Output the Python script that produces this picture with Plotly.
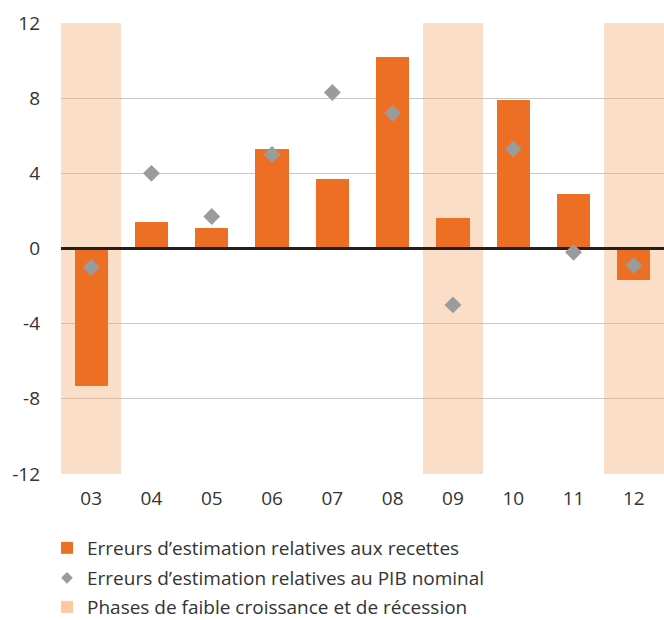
import plotly.graph_objects as go

years = ["03", "04", "05", "06", "07", "08", "09", "10", "11", "12"]
recettes = [-7.3, 1.4, 1.1, 5.3, 3.7, 10.2, 1.6, 7.9, 2.9, -1.7]
pib = [-1.0, 4.0, 1.7, 5.0, 8.3, 7.2, -3.0, 5.3, -0.2, -0.9]
phases = ["03", "09", "12"]
y_ticks = [-12, -8, -4, 0, 4, 8, 12]

ORANGE = "#EC6F24"
GREY = "#9B9B9B"
SHADE = "rgba(246,172,115,0.4)"
SHADE_LEG = "#FDC8A2"
FONT = "Open Sans"

NAME_REC = "Erreurs d\u2019estimation relatives aux recettes"
NAME_PIB = "Erreurs d\u2019estimation relatives au PIB nominal"
NAME_PH = "Phases de faible croissance et de récession"

fig = go.Figure()

fig.add_trace(go.Bar(
    x=phases, y=[24] * len(phases), base=[-12] * len(phases), width=1.0,
    marker=dict(color=SHADE, line=dict(width=0)),
    name=NAME_PH, showlegend=False,
))
fig.add_trace(go.Bar(
    x=years, y=recettes, width=0.55,
    marker=dict(color=ORANGE, line=dict(width=0)),
    name=NAME_REC, legend="legend",
))
# zero baseline drawn above bars, below markers
fig.add_trace(go.Bar(
    x=years, y=[0.15] * len(years), base=[-0.075] * len(years), width=1.0,
    marker=dict(color="#231F20", line=dict(width=0)),
    showlegend=False, hoverinfo="skip",
))
fig.add_trace(go.Scatter(
    x=years, y=pib, mode="markers",
    marker=dict(symbol="diamond", size=13, color=GREY, line=dict(width=0)),
    name=NAME_PIB, showlegend=False,
))
# legend-only entries (smaller diamond, stronger shade swatch as in the original)
fig.add_trace(go.Scatter(
    x=[None], y=[None], mode="markers",
    marker=dict(symbol="diamond", size=9, color=GREY, line=dict(width=0)),
    name=NAME_PIB, legend="legend2", hoverinfo="skip",
))
fig.add_trace(go.Bar(
    x=[None], y=[None],
    marker=dict(color=SHADE_LEG, line=dict(width=0)),
    name=NAME_PH, legend="legend3", hoverinfo="skip",
))

def leg(ypx):
    return dict(
        x=47 / 664, xref="container", xanchor="left",
        y=1 - ypx / 620, yref="container", yanchor="middle",
        font=dict(size=19, color="#333333", family=FONT),
        itemwidth=30, bgcolor="rgba(0,0,0,0)", borderwidth=0,
    )

fig.update_layout(
    width=664, height=620,
    margin=dict(l=61, r=0, t=23, b=146, autoexpand=False),
    plot_bgcolor="white", paper_bgcolor="white",
    barmode="overlay", bargap=0,
    font=dict(family=FONT, color="#333333"),
    showlegend=True,
    legend=leg(548), legend2=leg(578), legend3=leg(607),
    xaxis=dict(
        type="category", categoryorder="array", categoryarray=years,
        range=[-0.5, 9.5], showgrid=False, zeroline=False,
        showline=False, ticks="", tickfont=dict(size=19),
        ticklabelstandoff=11,
    ),
    yaxis=dict(
        range=[-12, 12], tickvals=y_ticks, ticktext=[str(v) for v in y_ticks],
        showgrid=True, gridcolor="#C8C8C8", gridwidth=1,
        zeroline=False, showline=False, ticks="",
        tickfont=dict(size=19), ticklabelstandoff=20,
    ),
)

fig.write_html("out.html")
